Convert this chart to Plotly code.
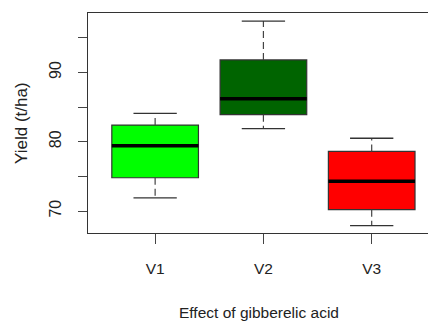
import plotly.graph_objects as go

categories = ["V1", "V2", "V3"]
positions = [1, 2, 3]
lower_whisker = [71.9, 81.9, 67.9]
q1 = [74.8, 83.9, 70.2]
median = [79.4, 86.2, 74.3]
q3 = [82.4, 91.8, 78.6]
upper_whisker = [84.1, 97.4, 80.5]
colors = ["#00FF00", "#006400", "#FF0000"]

y_tick_vals = [70, 75, 80, 85, 90, 95]
y_tick_text = ["70", "", "80", "", "90", ""]

W, H = 428, 322
L, T, B = 88, 13.3, 88.7
BOX_W = 0.8
CAP_W = 0.4

fig = go.Figure()
for i, c in enumerate(categories):
    x0 = positions[i]
    # dashed whiskers
    fig.add_trace(go.Scatter(
        x=[x0, x0, None, x0, x0],
        y=[q3[i], upper_whisker[i], None, q1[i], lower_whisker[i]],
        mode="lines", line=dict(color="#444444", width=1.2, dash="7px,4px"),
        hoverinfo="skip", showlegend=False))
    # caps
    fig.add_trace(go.Scatter(
        x=[x0 - CAP_W / 2, x0 + CAP_W / 2, None, x0 - CAP_W / 2, x0 + CAP_W / 2],
        y=[upper_whisker[i], upper_whisker[i], None, lower_whisker[i], lower_whisker[i]],
        mode="lines", line=dict(color="#333333", width=1.3),
        hoverinfo="skip", showlegend=False))
    # box
    fig.add_trace(go.Box(
        x=[x0], q1=[q1[i]], median=[median[i]], q3=[q3[i]],
        lowerfence=[q1[i]], upperfence=[q3[i]],
        width=BOX_W, whiskerwidth=0, fillcolor=colors[i],
        line=dict(color="#333333", width=1.2), name=c, showlegend=False,
        boxpoints=False))
    # thick median
    fig.add_trace(go.Scatter(
        x=[x0 - BOX_W / 2, x0 + BOX_W / 2], y=[median[i], median[i]],
        mode="lines", line=dict(color="#000000", width=3.5),
        hoverinfo="skip", showlegend=False))

font_h = "Liberation Sans, Arial, sans-serif"
font_v = "Liberation Sans, Arial, sans-serif"

fig.update_layout(
    width=W, height=H,
    margin=dict(l=L, r=0, t=T, b=B),
    paper_bgcolor="white", plot_bgcolor="white",
    showlegend=False,
    xaxis=dict(range=[0.38, 3.52], tickvals=positions, ticktext=categories,
               showgrid=False, zeroline=False, showline=True, mirror=True,
               linecolor="#333333", linewidth=1.3,
               ticks="outside", ticklen=10, tickwidth=1.2, tickcolor="#444444",
               ticklabelstandoff=11,
               tickfont=dict(family=font_h, size=15.5, color="#222222")),
    yaxis=dict(range=[66.83, 98.57], tickvals=y_tick_vals, ticktext=y_tick_text,
               showgrid=False, zeroline=False, showline=True, mirror=False,
               linecolor="#333333", linewidth=1.3,
               ticks="outside", ticklen=9, tickwidth=1.2, tickcolor="#444444",
               tickangle=-90, ticklabelstandoff=10,
               tickfont=dict(family=font_v, size=16, color="#222222")),
    annotations=[
        dict(text="Effect of gibberelic acid", xref="paper", yref="paper",
             x=0.503, y=0, xanchor="center", yanchor="middle", yshift=-79,
             showarrow=False, font=dict(family=font_h, size=15.5, color="#222222")),
        dict(text="Yield (t/ha)", xref="paper", yref="paper",
             x=0, y=0.5, xanchor="center", yanchor="middle", xshift=-67,
             textangle=-90, showarrow=False,
             font=dict(family=font_v, size=17, color="#222222")),
    ],
)

fig.write_html("out.html")
